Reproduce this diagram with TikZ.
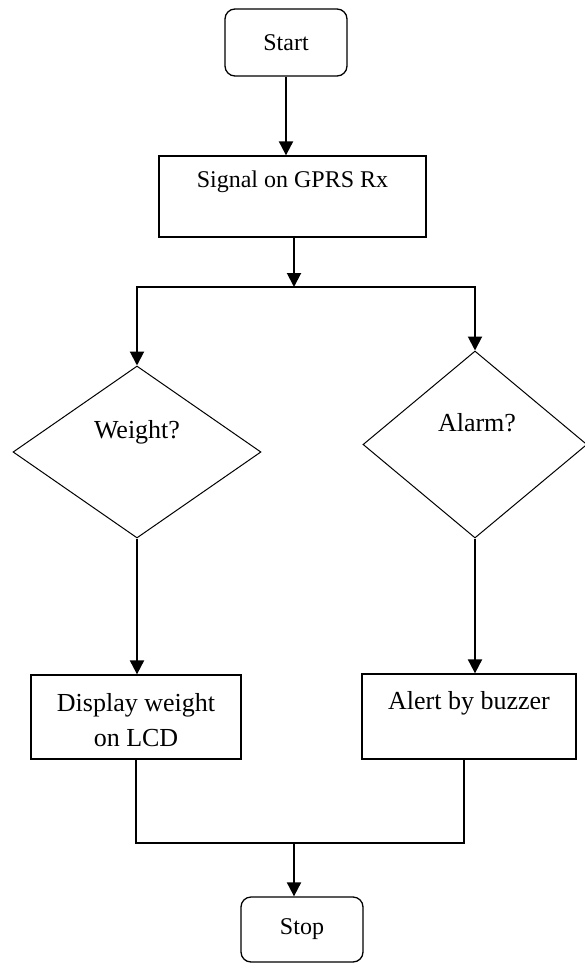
\documentclass[tikz,border=0pt]{standalone}
\usepackage{fontspec}
\setmainfont{Liberation Serif}
\usetikzlibrary{shapes.geometric,arrows.meta}
\begin{document}
\begin{tikzpicture}[x=1pt,y=-1pt,
  term/.style={draw,line width=1.3pt,rounded corners=10pt,inner sep=0pt,
    minimum width=122pt,font=\fontsize{24}{28}\selectfont},
  proc/.style={draw,line width=1.3pt,inner sep=0pt},
  dec/.style={draw,diamond,line width=1pt,inner sep=0pt},
  lbl/.style={inner sep=0pt,align=center},
  small/.style={font=\fontsize{24}{28}\selectfont},
  big/.style={font=\fontsize{26}{35}\selectfont},
  flow/.style={line width=2pt,-{Triangle[length=14pt,width=14pt]}},
  joinline/.style={line width=1.3pt}]
\useasboundingbox (0,0) rectangle (584,963);
\fill[white] (0,0) rectangle (584,963);
% nodes
\node[term,minimum height=67pt] (start) at (286,42.5) {Start};
\node[proc,minimum width=267pt,minimum height=81pt] (signal) at (292.5,196.5) {};
\node[lbl,small] (signaltxt) at (292.5,182) {Signal on GPRS Rx};
\coordinate (split) at (294,287);
\node[dec,minimum width=248pt,minimum height=172pt] (ldia) at (137,452) {};
\node[lbl,big] (ldiatxt) at (137,432) {Weight?};
\node[dec,minimum width=224pt,minimum height=187pt] (rdia) at (475,444.5) {};
\node[lbl,big] (rdiatxt) at (477,423) {Alarm?};
\node[proc,minimum width=210pt,minimum height=84pt] (disp) at (136,717) {};
\node[lbl,big] (disptxt) at (136,720.5) {Display weight\\on LCD};
\node[proc,minimum width=214pt,minimum height=85pt] (alert) at (469,716.5) {};
\node[lbl,big] (alerttxt) at (469,703) {Alert by buzzer};
\coordinate (merge) at (294,843);
\node[term,minimum height=65pt] (stop) at (302,929.5) {Stop};
% connectors
\draw[flow] (start.south) -- (start.south |- signal.north);
\draw[flow] (signal.south -| split) -- (split);
\draw[flow] (split) -| (ldia.north);
\draw[flow] (split) -| (rdia.north);
\draw[flow] (ldia.south) -- (ldia.south |- disp.north);
\draw[flow] (rdia.south) -- (rdia.south |- alert.north);
\draw[joinline] (disp.south) |- (merge) -| ([xshift=-5pt]alert.south);
\draw[flow] (merge) -- (merge |- stop.north);
\end{tikzpicture}
\end{document}
